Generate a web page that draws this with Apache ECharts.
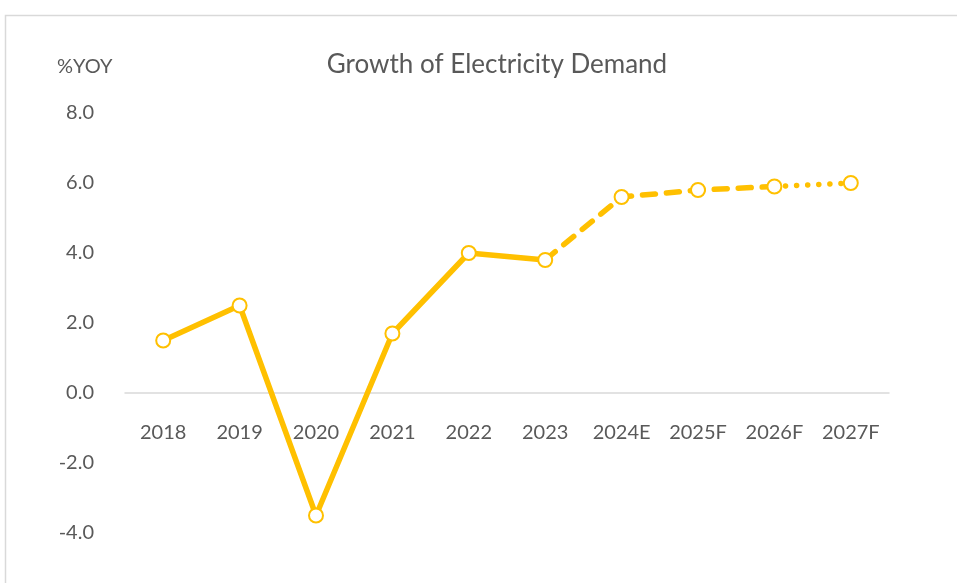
<!DOCTYPE html>
<html>
<head>
<meta charset="utf-8">
<script src="https://cdn.jsdelivr.net/npm/echarts@6/dist/echarts.min.js"></script>
<style>
  html, body { margin: 0; padding: 0; background: #fff; }
  #chart { width: 957px; height: 583px; }
</style>
</head>
<body>
<div id="chart"></div>
<script>
const years = ["2018", "2019", "2020", "2021", "2022", "2023", "2024E", "2025F", "2026F", "2027F"];
const actual = [1.5, 2.5, -3.5, 1.7, 4.0, 3.8, null, null, null, null];
const estimate = [null, null, null, null, null, 3.8, 5.6, 5.8, 5.9, null];
const forecast = [null, null, null, null, null, null, null, null, 5.9, 6.0];
const allPoints = [1.5, 2.5, -3.5, 1.7, 4.0, 3.8, 5.6, 5.8, 5.9, 6.0];

const gold = "#FFC000";
const textColor = "#595959";
const font = "Lato, 'Open Sans', sans-serif";

const chart = echarts.init(document.getElementById("chart"));

const lineSeries = (data, type) => ({
  type: "line",
  data: data,
  symbol: "none",
  connectNulls: false,
  lineStyle: { color: gold, width: 5.5, type: type, cap: "round" },
  z: 2,
});

chart.setOption({
  animation: false,
  title: [
    {
      text: "Growth of Electricity Demand",
      left: 492,
      textAlign: "center",
      top: 47,
      textStyle: { fontFamily: font, fontSize: 26, fontWeight: "normal", color: textColor },
    },
    {
      text: "%YOY",
      left: 52,
      top: 52,
      textStyle: { fontFamily: font, fontSize: 20, fontWeight: "normal", color: textColor },
    },
  ],
  graphic: [
    {
      type: "rect",
      shape: { x: 5.5, y: 15.5, width: 1200, height: 1000 },
      style: { fill: "none", stroke: "#d9d9d9", lineWidth: 1.5 },
      silent: true,
    },
  ],
  grid: { left: 125, right: 68, top: 113, bottom: 50 },
  xAxis: {
    type: "category",
    data: years,
    boundaryGap: true,
    offset: -140,
    axisLine: { onZero: false, lineStyle: { color: "#d9d9d9", width: 1.5 } },
    axisTick: { show: false },
    axisLabel: { margin: 30, fontFamily: font, fontSize: 20, color: textColor },
  },
  yAxis: {
    type: "value",
    min: -4,
    max: 8,
    interval: 2,
    axisLine: { show: false },
    axisTick: { show: false },
    splitLine: { show: false },
    axisLabel: {
      margin: 31,
      fontFamily: font,
      fontSize: 20,
      color: textColor,
      formatter: (v) => v.toFixed(1),
    },
  },
  series: [
    lineSeries(actual, "solid"),
    lineSeries(estimate, [13, 11]),
    lineSeries(forecast, [0.1, 11]),
    {
      type: "line",
      data: allPoints,
      symbol: "circle",
      symbolSize: 14,
      lineStyle: { opacity: 0 },
      itemStyle: { color: "#fff", borderColor: gold, borderWidth: 2 },
      z: 5,
    },
  ],
});
</script>
</body>
</html>
